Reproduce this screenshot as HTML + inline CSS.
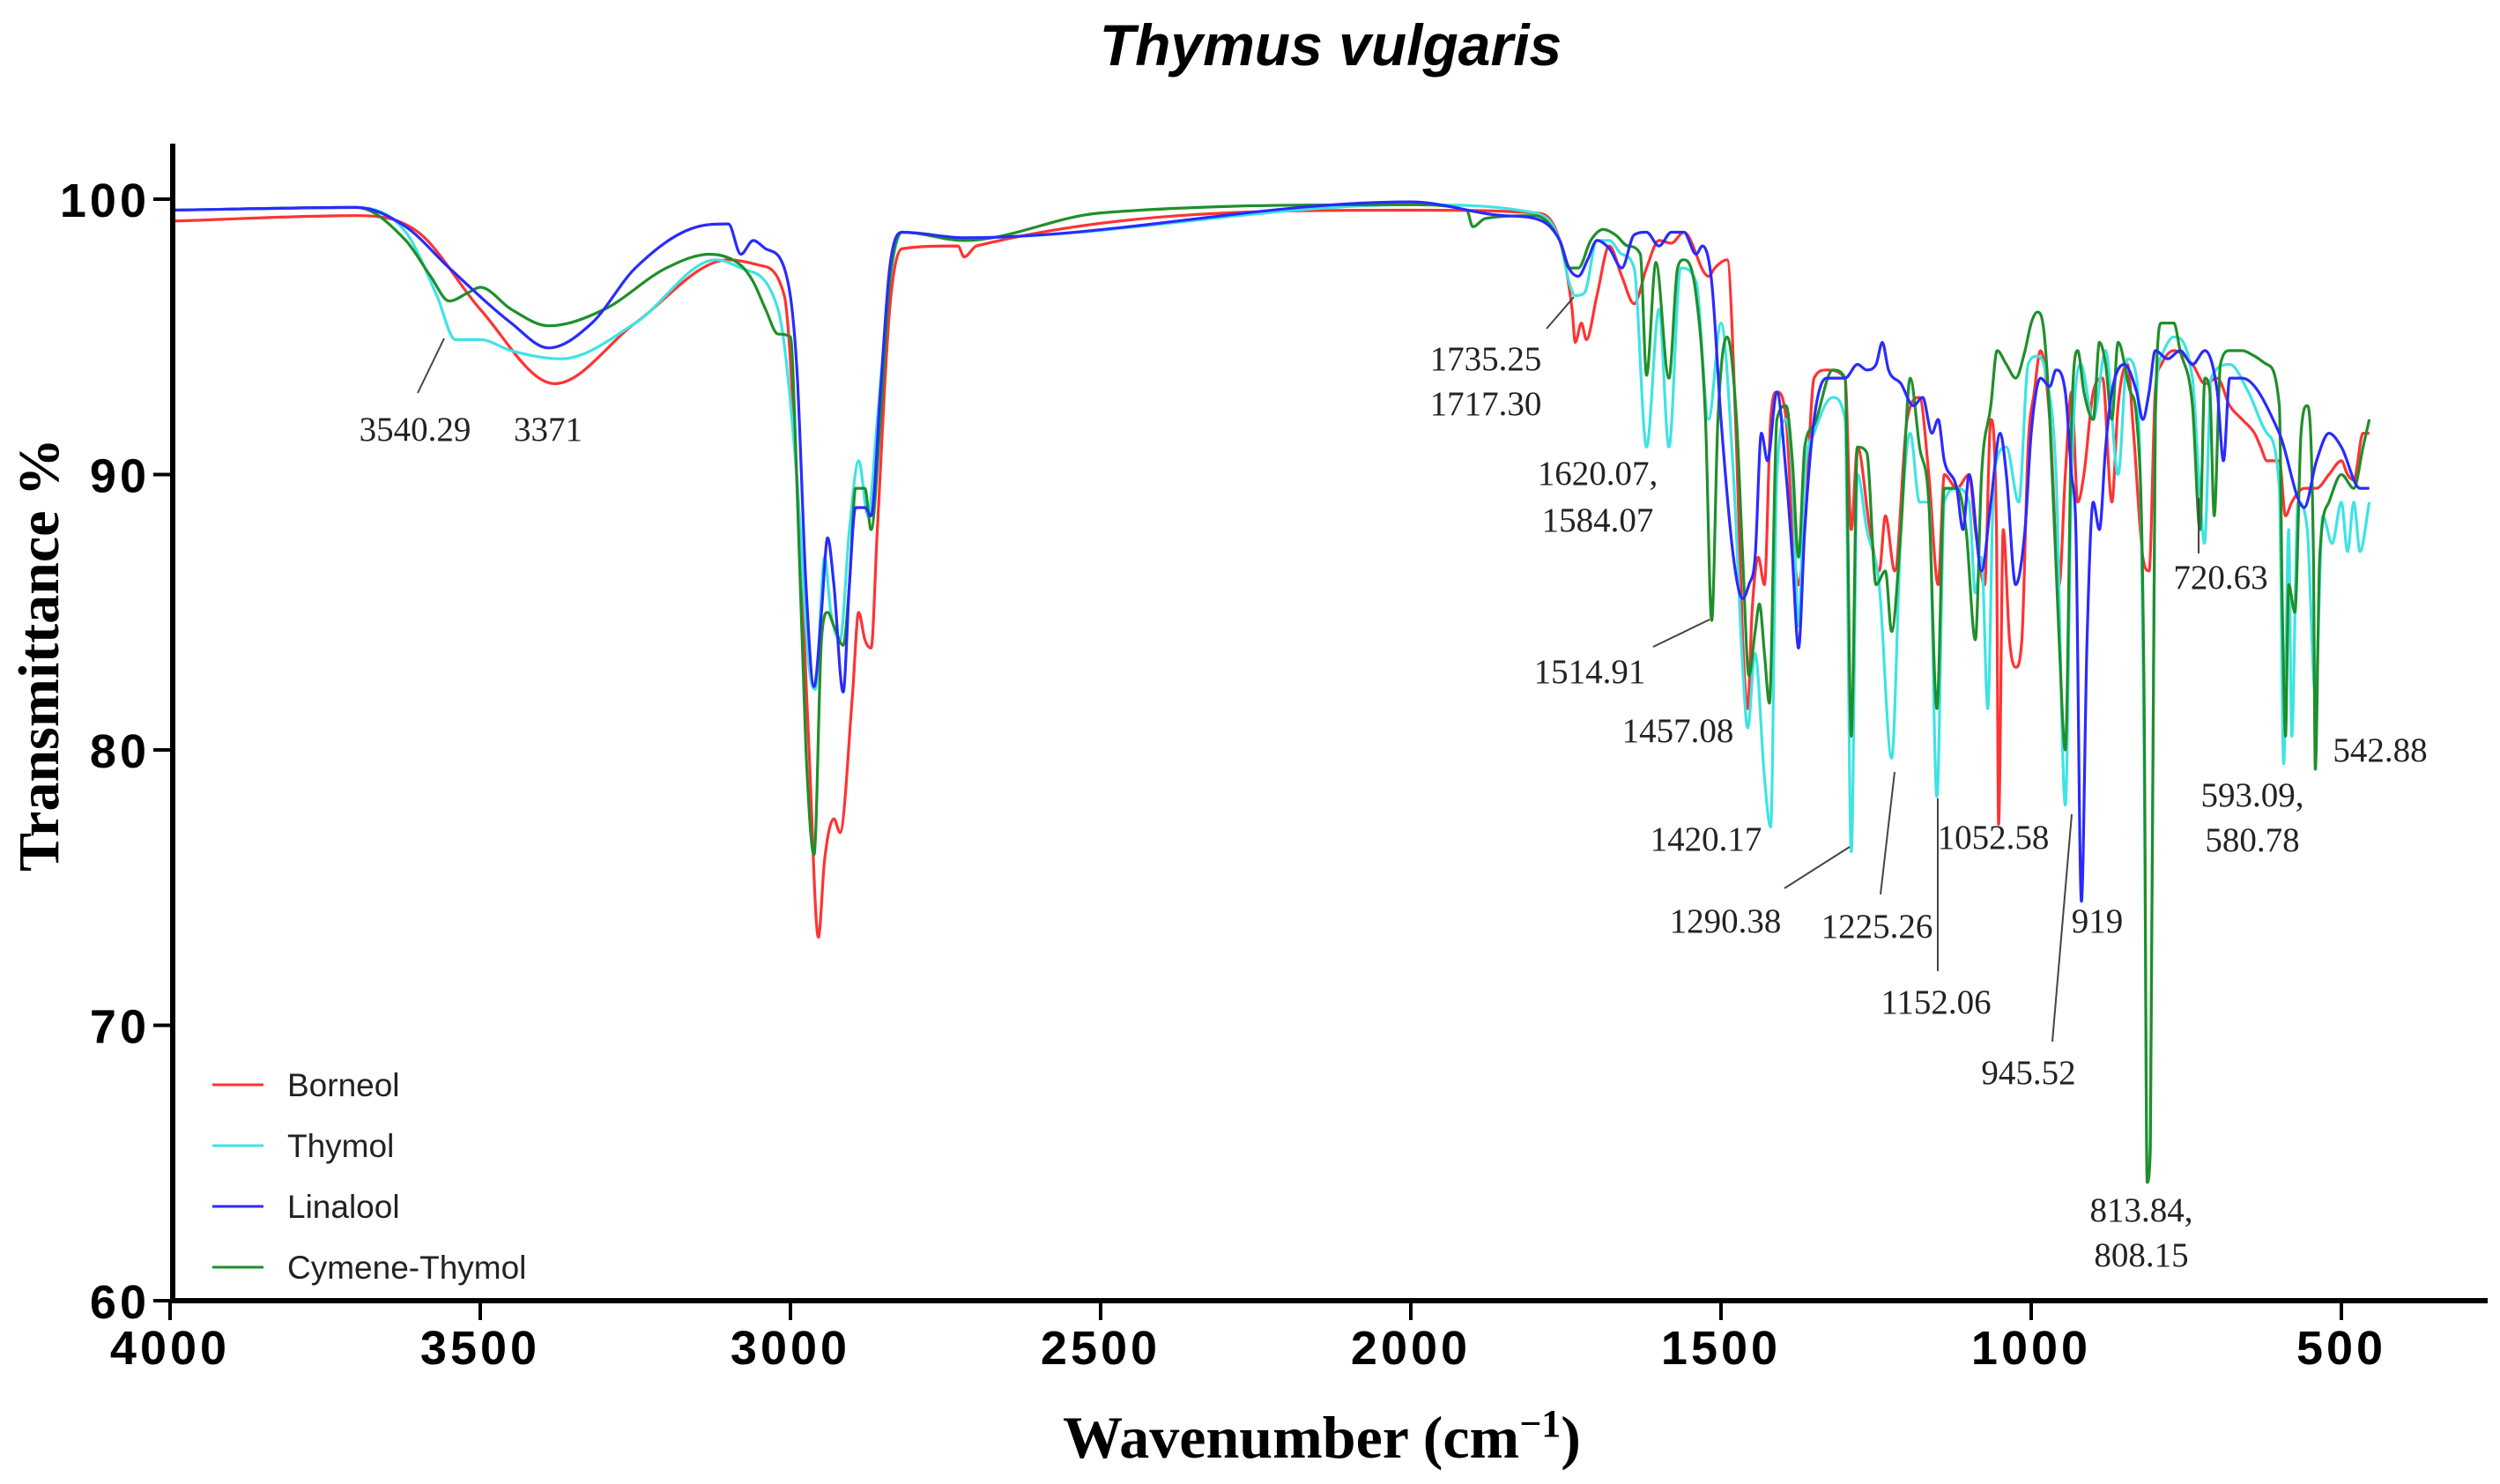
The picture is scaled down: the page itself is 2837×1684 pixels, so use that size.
<!DOCTYPE html>
<html><head><meta charset="utf-8"><style>
html,body{margin:0;padding:0;background:#fff;}
svg{display:block;}
.tick{font-family:"Liberation Sans",sans-serif;font-weight:900;font-size:54px;letter-spacing:4px;fill:#000;}
.ann{font-family:"Liberation Serif",serif;font-size:39px;fill:#222;}
.leg{font-family:"Liberation Sans",sans-serif;font-size:37px;fill:#222;}
</style></head><body>
<svg id="chart" width="2837" height="1684" viewBox="0 0 2837 1684">
<text x="1510" y="74" text-anchor="middle" font-family="Liberation Sans, sans-serif" font-weight="bold" font-style="italic" font-size="66">Thymus vulgaris</text>
<text transform="translate(66,743) rotate(-90)" text-anchor="middle" font-family="Liberation Serif, serif" font-weight="bold" font-size="66">Transmittance %</text>
<text x="1500" y="1654" text-anchor="middle" font-family="Liberation Serif, serif" font-weight="bold" font-size="68">Wavenumber (cm<tspan dy="-24" font-size="44">−1</tspan><tspan dy="24">)</tspan></text>
<g id="series"></g>
<g id="axes"></g>
<g id="annotations"></g>
<g id="legend"></g>
</svg>
<script>
const xTicks = [4000,3500,3000,2500,2000,1500,1000,500];
const yTicks = [60,70,80,90,100];
const seriesNames = ["Borneol","Thymol","Linalool","Cymene-Thymol"];
const seriesColors = ["#ff3333","#3fe3e3","#2a2aff","#1f8f2a"];

const borneolWn = [4000,3700,3600,3500,3380,3250,3100,3050,3010,2990,2970,2955,2945,2930,2920,2900,2890,2880,2870,2860,2840,2820,2730,2720,2700,2000,1800,1760,1740,1735,1725,1717,1700,1680,1660,1640,1620,1600,1580,1560,1520,1510,1490,1475,1465,1457,1450,1440,1430,1420,1410,1395,1385,1375,1365,1350,1330,1300,1290,1280,1260,1245,1235,1220,1200,1180,1165,1150,1140,1120,1100,1090,1075,1065,1056,1052.6,1045,1035,1025,1015,1005,995,985,970,955,945,935,925,915,900,885,870,860,845,835,820,810,800,790,770,740,720,700,680,660,640,630,620,600,590,580,560,540,520,500,490,480,465,455];
const borneolT = [99.2,99.4,98.8,96,93.3,95.5,97.8,97.6,96.5,90,80,73.2,76,77.5,77,82,85,84,83.7,88,96,98.2,98.3,97.9,98.3,99.6,99.5,98.5,96,94.8,95.5,94.9,96.5,98.3,97.2,96.2,97.5,98.5,98.4,98.8,97.2,97.5,97.8,91,84,81.5,85,87,86,92,93,92,88,86,88,93.5,93.8,93.5,88,91,88,86.5,88.5,86.5,92,92.8,90,86,90,89.5,90,88,86,92,88,77.3,88,84,83,84,91,93,94.5,92,86,90,93,89,90,93,93.5,89,92.5,94,91.5,87,86.5,93,94,94.5,94,93.3,93.5,92.5,92,91.5,91,90.5,90.5,88.5,89,89.5,89.5,90,90.5,90,89.8,91.5,91.5];

const thymolWn = [4000,3700,3620,3570,3540,3500,3450,3370,3250,3120,3080,3020,2990,2970,2960,2945,2935,2920,2905,2890,2875,2860,2840,2820,2720,2000,1800,1760,1745,1735,1720,1700,1680,1660,1640,1620,1600,1584,1565,1540,1520,1500,1480,1465,1457,1445,1430,1420,1410,1395,1385,1375,1365,1350,1320,1300,1290,1280,1265,1245,1225,1210,1195,1180,1165,1152,1140,1120,1100,1090,1080,1070,1060,1040,1020,1005,990,975,960,945,935,920,900,880,860,845,830,818,813,808,800,790,770,740,730,720.6,710,680,650,620,600,593,585,580,570,555,542,530,515,500,490,480,470,455];
const thymolT = [99.6,99.7,98.8,96.5,94.9,94.9,94.5,94.2,95.5,97.8,97.5,96,90,83,82.2,87,85,84,88,90.5,88.5,92,97,98.8,98.6,99.8,99.5,98.5,97,96.5,96.6,98.5,98.5,98,97.5,91,96,91,97.5,97,92,95.5,90,83,80.8,83.5,79,77.2,90,92,90,84.5,90,91.5,92.8,92,76.3,90,88,86,79.7,88,91.5,89,89,78.3,89,89.5,89,85.7,87,81.5,90,91,89,94,94.3,93.5,90,78,90,94,92,94.5,90,94.2,93.5,80,64.5,66,92,94.3,95,93.5,90,87.5,93.5,94,93,91.5,89.5,79.5,88,80.5,89,88,82,88.5,87.5,89,87.2,89,87.2,89];

const linaloolWn = [4000,3700,3620,3550,3450,3390,3320,3250,3150,3100,3080,3060,3040,3010,2990,2975,2962,2950,2940,2930,2915,2905,2895,2880,2870,2855,2840,2820,2720,2000,1850,1800,1760,1745,1730,1715,1700,1680,1660,1640,1620,1600,1580,1560,1540,1530,1515,1500,1480,1465,1455,1445,1435,1425,1410,1395,1385,1375,1365,1350,1330,1300,1280,1265,1250,1240,1230,1210,1190,1175,1160,1150,1140,1120,1110,1100,1080,1065,1050,1040,1025,1010,1000,985,970,960,945,935,928,919,910,900,890,880,870,850,830,820,810,800,780,760,740,720,700,690,680,660,600,560,540,520,500,470,455];
const linaloolT = [99.6,99.7,99,97.5,95.5,94.6,95.5,97.5,99,99.1,98,98.5,98.2,97.5,94,86,82.3,85,87.7,86,82.1,86,88.8,88.8,88.5,93,97.5,98.8,98.6,99.9,99.4,99.3,98.5,97.5,97.2,97.8,98.5,98.2,97.5,98.7,98.8,98.3,98.8,98.8,98,98.3,97,92,87,85.5,86,87,91.5,90.5,93,90,87,83.7,88,92,93.5,93.5,94,93.8,94,94.8,93.8,93.3,92.5,92.8,91.5,92,90.5,89.5,88,90,86.5,89,91.5,90,86,88,91.5,93.5,93.2,93.8,93,90,88,74.5,84,89,88,91,93,94,93,92,93,94.5,94.2,94.5,94,94.5,93,90.5,93.5,93.5,91.5,88.8,90.5,91.5,91,89.5,89.5];

const cymeneWn = [4000,3700,3620,3580,3550,3520,3500,3450,3390,3300,3200,3130,3080,3060,3040,3020,3000,2990,2975,2962,2950,2940,2930,2915,2905,2895,2880,2870,2855,2840,2820,2720,2500,2000,1910,1900,1880,1800,1760,1745,1730,1710,1690,1670,1650,1630,1620,1605,1584,1570,1560,1540,1525,1515,1505,1490,1475,1465,1455,1445,1438,1430,1422,1410,1395,1385,1375,1365,1350,1320,1300,1290,1280,1265,1250,1235,1225,1210,1195,1180,1165,1152,1140,1120,1105,1090,1080,1065,1055,1040,1025,1010,1000,990,980,970,955,945,935,925,915,900,890,880,870,860,840,830,818,813,808,800,790,770,760,740,728,720,712,705,695,680,660,640,620,600,595,590,585,575,565,555,545,542,535,520,500,480,465,455];
const cymeneT = [99.6,99.7,98.5,97.2,96.3,96.6,96.8,96,95.4,96,97.5,98,97.6,97,96,95.1,95,90,80,76.2,84,85,84.5,83.8,86,89.5,89.5,88,92,97,98.8,98.5,99.5,99.8,99.6,99,99.3,99.4,98.5,97.5,97.5,98.5,98.9,98.7,98.3,98,93.6,97.7,93.5,97.5,97.8,96.5,92,84.7,92,95,92,87,82.7,84.3,85.3,83.5,81.7,92,92.5,90.5,87,91,91.8,93.8,93.5,80.5,91,90.8,86,86.5,84.3,88,93.5,91,89,81.5,89.5,89.5,88,84,90,92.5,94.5,94,93.5,94.5,95.5,95.9,95.3,92,84,80,92,94.5,93,92,94.8,94,92,94.8,93,92,82,64.3,65.5,92,95.5,95.5,94.5,92.5,88,93.5,93,88.5,94,94.5,94.5,94.3,94,92.5,85,80.5,86,85,91.5,92.5,87,79.3,87,89,90,89.5,91,92];

const annLabels = ["3540.29","3371","1735.25","1717.30","1620.07,","1584.07","1514.91","1457.08","1420.17","1290.38","1225.26","1152.06","1052.58","919","945.52","813.84,","808.15","720.63","593.09,","580.78","542.88"];

const NS="http://www.w3.org/2000/svg";
const X0=193, PX_PER=352/500, Y100=226, PY_PER=31.25;
function xs(w){return X0+(4000-w)*PX_PER;}
function ys(t){return Y100+(100-t)*PY_PER;}
function mk(tag,attrs,parent){const e=document.createElementNS(NS,tag);for(const k in attrs)e.setAttribute(k,attrs[k]);parent.appendChild(e);return e;}

// monotone cubic path through screen points
function monoPath(P){
  const n=P.length; if(n<2) return "";
  const dx=[],s=[];
  for(let i=0;i<n-1;i++){dx[i]=P[i+1][0]-P[i][0];s[i]=dx[i]?(P[i+1][1]-P[i][1])/dx[i]:0;}
  const m=[s[0]];
  for(let i=1;i<n-1;i++){m[i]=(s[i-1]*s[i]<=0)?0:(s[i-1]+s[i])/2;}
  m[n-1]=s[n-2];
  for(let i=0;i<n-1;i++){
    if(s[i]===0){m[i]=0;m[i+1]=0;continue;}
    const a=m[i]/s[i],b=m[i+1]/s[i],h=a*a+b*b;
    if(h>9){const t=3/Math.sqrt(h);m[i]=t*a*s[i];m[i+1]=t*b*s[i];}
  }
  let d="M"+P[0][0].toFixed(1)+","+P[0][1].toFixed(1);
  for(let i=0;i<n-1;i++){
    const h=dx[i]/3;
    d+="C"+(P[i][0]+h).toFixed(1)+","+(P[i][1]+m[i]*h).toFixed(1)+" "+(P[i+1][0]-h).toFixed(1)+","+(P[i+1][1]-m[i+1]*h).toFixed(1)+" "+P[i+1][0].toFixed(1)+","+P[i+1][1].toFixed(1);
  }
  return d;
}

const sg=document.getElementById('series');
const allWn=[borneolWn,thymolWn,linaloolWn,cymeneWn];
const allT=[borneolT,thymolT,linaloolT,cymeneT];
const order=[0,1,3,2];
order.forEach(i=>{
  const wn=allWn[i], t=allT[i];
  const n=Math.min(wn.length,t.length);
  const P=[];
  for(let j=0;j<n;j++){P.push([xs(wn[j]),ys(t[j])]);}
  const p=mk('path',{d:monoPath(P),fill:'none',stroke:seriesColors[i],'stroke-width':3.2,'stroke-linejoin':'round'},sg);
  
  
});

const ag=document.getElementById('axes');
const yAxis=mk('line',{x1:196,y1:163,x2:196,y2:1478,stroke:'#000','stroke-width':6},ag);


const xAxis=mk('line',{x1:193,y1:1476,x2:2823,y2:1476,stroke:'#000','stroke-width':6},ag);


yTicks.forEach(v=>{
  const y=ys(v);
  const tl=mk('line',{x1:174,y1:y,x2:196,y2:y,stroke:'#000','stroke-width':4},ag);
  
  
  const tx=mk('text',{x:170,y:y+20,'text-anchor':'end',class:'tick'},ag);
  tx.textContent=v;
  
  
});
xTicks.forEach(v=>{
  const x=xs(v);
  const tl=mk('line',{x1:x,y1:1476,x2:x,y2:1498,stroke:'#000','stroke-width':4},ag);
  
  
  const tx=mk('text',{x:x,y:1548,'text-anchor':'middle',class:'tick'},ag);
  tx.textContent=v;
  
  
});

const annPos=[[471,500],[622,500],[1686,420],[1686,471],[1813,550],[1813,603],[1804,775],[1904,842],[1936,965],[1958,1058],[2130,1064],[2197,1150],[2262,963],[2380,1058],[2302,1230],[2430,1386],[2430,1437],[2520,668],[2556,915],[2556,966],[2701,864]];
const leaders=[[474,446,504,384],[1755,373,1786,337],[1876,734,1940,703],[2025,1008,2099,961],[2134,1015,2150,876],[2199,1102,2199,906],[2329,1182,2351,924],[2495,628,2495,565]];
const ng=document.getElementById('annotations');
annLabels.forEach((s,i)=>{
  const tx=mk('text',{x:annPos[i][0],y:annPos[i][1],'text-anchor':'middle',class:'ann'},ng);
  tx.textContent=s;
  
  
});
leaders.forEach((l,i)=>{
  const ln=mk('line',{x1:l[0],y1:l[1],x2:l[2],y2:l[3],stroke:'#444','stroke-width':2},ng);
  
  
});

const lg=document.getElementById('legend');


seriesNames.forEach((s,i)=>{
  const y=1231+i*69;
  const ln=mk('line',{x1:241,y1:y,x2:299,y2:y,stroke:seriesColors[i],'stroke-width':3},lg);
  
  
  const tx=mk('text',{x:326,y:y+13,class:'leg'},lg);
  tx.textContent=s;
  
  
});
</script>
</body></html>
